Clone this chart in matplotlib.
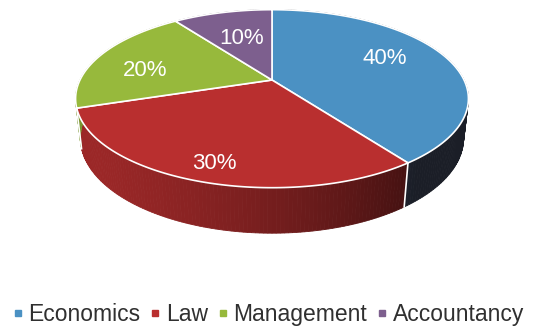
import numpy as np
import matplotlib.pyplot as plt
from matplotlib.patches import Polygon
from matplotlib.lines import Line2D

plt.rcParams['font.family'] = ['Liberation Sans', 'DejaVu Sans']

# Share of students by faculty
subjects = ['Economics', 'Law', 'Management', 'Accountancy']
shares = [40, 30, 20, 10]
top_colors = ['#4b91c3', '#b92f2f', '#97b93c', '#7d5f8e']
side_colors = ['#4c5670', '#b92f2f', '#97b93c', '#7d5f8e']
# where the percentage sits: radius and a nudge off the mid angle
label_radius = [0.67, 0.85, 0.69, 0.57]
label_turn = [-5, -1, -8, 0]

# simple perspective camera looking down on a unit disc
ELEV = np.radians(26.3)
DIST = 4.27
FOCAL = 820
CX, CY = 272, 80
THICK = 0.23


def project(u, v, z):
    # u to the right, v away from the viewer, z up
    c, s = np.cos(ELEV), np.sin(ELEV)
    d = DIST + c * v - s * z
    return CX + FOCAL * u / d, CY - FOCAL * (s * v + c * z) / d


def rim(t, r=1.0, z=0.0):
    t = np.radians(t)
    return project(r * np.sin(t), r * np.cos(t), z)


def shade(t):
    # light from the front left
    f = 0.42 + 0.42 * np.cos(np.radians(t - 240))
    return np.clip(f, 0.35, 1.0)


fig = plt.figure(figsize=(5.47, 3.27), dpi=100)
ax = fig.add_axes([0, 0, 1, 1])
ax.set_xlim(0, 547)
ax.set_ylim(327, 0)
ax.axis('off')

bounds = np.concatenate([[0], np.cumsum(shares)]) / sum(shares) * 360

# outer walls first, the top faces cover whatever is behind
for i in range(len(shares)):
    a0, a1 = bounds[i], bounds[i + 1]
    ts = np.linspace(a0, a1, int(a1 - a0) + 2)
    base = np.array(plt.matplotlib.colors.to_rgb(side_colors[i]))
    for t0, t1 in zip(ts[:-1], ts[1:]):
        pts = [rim(t0), rim(t1), rim(t1, z=-THICK), rim(t0, z=-THICK)]
        col = base * shade((t0 + t1) / 2)
        ax.add_patch(Polygon(pts, closed=True, facecolor=col, edgecolor=col, lw=0.6))

# white seams where the walls of two slices meet on the front
for b in bounds:
    if 90 < b < 270:
        x0, y0 = rim(b)
        x1, y1 = rim(b, z=-THICK)
        ax.plot([x0, x1], [y0, y1], color='white', lw=1.2)

# top faces
for i in range(len(shares)):
    a0, a1 = bounds[i], bounds[i + 1]
    ts = np.linspace(a0, a1, 200)
    xs, ys = rim(ts)
    pts = [project(0, 0, 0)] + list(zip(xs, ys))
    ax.add_patch(Polygon(pts, closed=True, facecolor=top_colors[i],
                         edgecolor='white', lw=1.2, joinstyle='round'))

    mid = (a0 + a1) / 2 + label_turn[i]
    lx, ly = rim(mid, r=label_radius[i])
    ax.text(lx, ly, f'{shares[i]}%', color='white', fontsize=16,
            ha='center', va='center')

handles = [Line2D([], [], marker='s', ls='', markersize=4.5, color=c)
           for c in top_colors]
fig.legend(handles, subjects, loc='lower center', ncol=4, frameon=False,
           fontsize=16.5, handlelength=0.5, handletextpad=0.23,
           columnspacing=0.38, bbox_to_anchor=(0.49, -0.06), labelcolor='#303030')

fig.savefig('out.png', dpi=100)
